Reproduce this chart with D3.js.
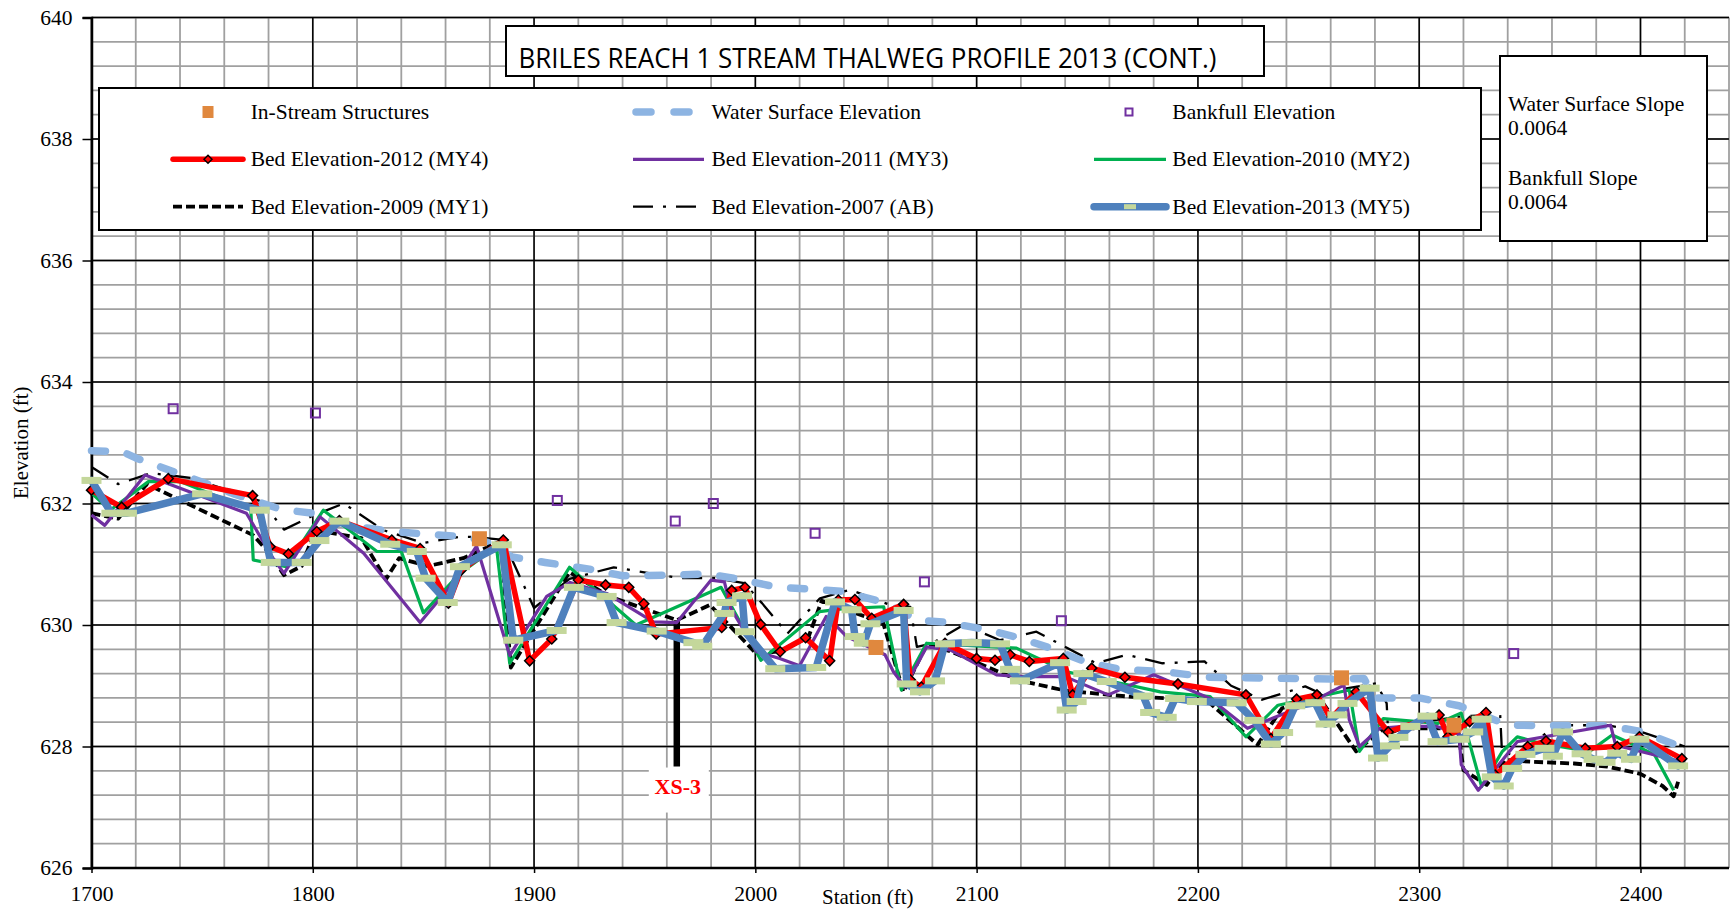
<!DOCTYPE html>
<html>
<head>
<meta charset="utf-8">
<script src="https://cdn.jsdelivr.net/npm/d3@7"></script>
<style>
  body { margin: 0; background: #fff; }
  svg text { font-family: "Liberation Serif", "Times New Roman", serif; }
</style>
</head>
<body>
<svg id="chart" width="1732" height="910"></svg>
<script>
// ---- data (station ft, elevation ft) ----
var waterSurface = [[1700,632.87],[1714,632.85],[1720,632.75],[1748,632.38],[1765,632.15],[1786,631.9],[1800,631.84],
  [1815,631.65],[1835,631.54],[1850,631.5],[1870,631.45],[1880,631.35],[1890,631.12],[1905,631.03],[1925,630.92],
  [1940,630.81],[1960,630.82],[1978,630.84],[1992,630.76],[2010,630.62],[2030,630.58],[2040,630.55],[2055,630.4],
  [2065,630.25],[2073,630.08],[2085,630.05],[2105,629.92],[2120,629.78],[2135,629.6],[2150,629.38],[2165,629.27],
  [2185,629.23],[2205,629.14],[2260,629.11],[2275,629.12],[2280,628.8],[2300,628.8],[2318,628.67],[2330,628.5],
  [2340,628.35],[2385,628.34],[2400,628.25],[2420,627.97]];

var bed2013 = [[1700,632.38],[1709,631.84],[1716,631.84],[1750,632.16],[1776,631.89],[1781,631.03],[1795,631.03],
  [1803,631.39],[1812,631.71],[1835,631.33],[1847,631.21],[1851,630.77],[1861,630.37],[1866.5,630.96],[1885.4,631.32],
  [1890.6,629.75],[1910.2,629.91],[1918,630.62],[1932.8,630.47],[1937.3,630.04],[1955.4,629.9],[1972,629.71],
  [1976,629.65],[1986,630.19],[1987,630.37],[1994,630.48],[1995.3,629.89],[2009,629.28],[2027.5,629.3],[2036,630.38],
  [2043.5,630.25],[2045,629.81],[2049,629.7],[2052,630.02],[2067,630.24],[2068.4,629.03],[2074.4,628.9],[2081.2,629.08],
  [2085.7,629.69],[2097.8,629.71],[2110.6,629.69],[2115.1,629.27],[2119.6,629.08],[2137.7,629.38],[2140.7,628.6],
  [2145.2,628.74],[2148.2,629.2],[2158.8,629.07],[2175.3,628.83],[2178.4,628.56],[2185.9,628.48],[2189.7,628.79],
  [2199.5,628.74],[2217.5,628.72],[2225.5,628.43],[2233,628.04],[2238.5,628.23],[2244,628.67],[2253,628.72],
  [2257.7,628.37],[2263,628.52],[2267.6,628.71],[2277.6,628.96],[2281.4,627.81],[2286.8,628.01],[2290.6,628.15],
  [2296,628.33],[2303.7,628.5],[2308.3,628.08],[2318.2,628.12],[2324.4,628.24],[2328.2,628.45],[2332.8,627.5],
  [2338.2,627.35],[2342,627.64],[2348,627.87],[2356.6,627.97],[2360.4,627.84],[2365,628.24],[2373.4,627.88],
  [2378.8,627.79],[2384.2,627.74],[2389.5,627.89],[2395.7,627.79],[2399.5,628.12],[2417,627.68]];

var bed2012 = [[1700,632.22],[1713.6,631.94],[1734.7,632.41],[1772.8,632.13],[1780.7,631.29],[1789,631.17],
  [1801.8,631.54],[1812,631.72],[1835.7,631.4],[1848.5,631.26],[1861.3,630.36],[1867,630.9],[1886.1,631.4],
  [1898,629.41],[1908,629.77],[1920,630.74],[1932.3,630.66],[1942.8,630.62],[1949.6,630.35],[1955.2,629.85],
  [1984.8,629.96],[1989.3,630.57],[1995.3,630.62],[2002.4,630.01],[2011.2,629.56],[2022.7,629.79],[2033.6,629.41],
  [2037.5,630.41],[2045,630.42],[2052.6,630.11],[2067,630.34],[2070,629.1],[2075,628.98],[2085.7,629.7],[2100,629.45],
  [2108.3,629.42],[2115.1,629.51],[2123.8,629.4],[2139.2,629.45],[2143.4,628.85],[2152,629.29],[2167,629.14],
  [2191,629.03],[2221.7,628.85],[2233,628.13],[2244.6,628.78],[2253.8,628.85],[2260,628.46],[2271.5,628.9],
  [2286,628.24],[2309,628.52],[2313,628.16],[2322.8,628.41],[2330.2,628.56],[2334.3,627.53],[2349,628.0],
  [2357.3,628.09],[2375,627.97],[2389.5,628.0],[2399.5,628.16],[2418.7,627.8]];

var bed2011 = [[1700,631.81],[1706,631.64],[1724.2,632.47],[1770,631.84],[1782,631.1],[1787,630.85],[1803.3,631.78],
  [1823,631.18],[1848.5,630.04],[1862,630.63],[1874,631.3],[1889,629.5],[1905.7,630.47],[1916.3,630.7],[1932.8,630.52],
  [1953.9,630.05],[1964.5,630.04],[1980,630.74],[1986,630.71],[1989,630.27],[2000.6,629.56],[2011,629.45],[2020,629.33],
  [2032,630.14],[2037,629.97],[2041.3,629.81],[2058.6,629.51],[2062.4,629.23],[2067.6,628.98],[2077.4,629.64],
  [2088,629.59],[2109,629.18],[2121,629.15],[2140,629.15],[2159.5,628.85],[2180,629.18],[2205.5,628.79],[2222.4,628.3],
  [2248.5,628.68],[2266,629.01],[2268.4,628.44],[2273,628.0],[2282.2,628.3],[2293,628.33],[2308,628.33],[2318,628.2],
  [2319,627.7],[2326.7,627.28],[2344.3,628.08],[2386.5,628.35],[2388.8,628.02],[2418.7,627.75]];

var bed2010 = [[1700,632.17],[1708.4,631.89],[1725.7,632.36],[1740,632.36],[1772,631.9],[1773.1,631.07],[1788,630.96],
  [1804.8,631.89],[1829,631.21],[1840,631.21],[1850,630.2],[1866.5,630.85],[1883,631.29],[1889,629.37],[1916,630.95],
  [1946,630.0],[1984.5,630.62],[2002.5,629.42],[2029,630.22],[2040,630.27],[2058,630.3],[2066,628.93],[2077.4,629.7],
  [2118,629.62],[2140.7,629.23],[2155,629.12],[2183,628.9],[2205.5,628.82],[2221.7,628.16],[2236.2,628.68],
  [2268.4,628.93],[2273,627.92],[2283.8,628.46],[2308.3,628.38],[2319,628.55],[2328.2,627.34],[2337.4,627.91],
  [2344.3,628.16],[2355,628.05],[2377,627.92],[2387.2,628.19],[2398.7,628.0],[2406.4,627.86],[2415,627.28]];

var bed2009 = [[1700,631.84],[1712,631.75],[1725,632.32],[1773,631.48],[1780,631.2],[1787,630.82],[1795,630.97],
  [1801,631.56],[1822,631.43],[1833,630.75],[1839,631.1],[1852,630.97],[1868,631.1],[1885,631.38],[1889.5,629.3],
  [1916,630.87],[1934,630.47],[1964.5,630.08],[1979.5,630.33],[2000.6,629.52],[2011.2,629.57],[2024,629.8],
  [2030,630.4],[2052.6,630.1],[2057.8,630.03],[2066.9,628.9],[2077.4,629.68],[2088,629.57],[2119,629.09],
  [2140,628.92],[2169,628.82],[2190,628.79],[2205.5,628.71],[2227,628.03],[2238,628.63],[2254.6,628.82],
  [2271.5,627.92],[2284,628.3],[2309,628.3],[2317.5,628.3],[2320,627.61],[2330.5,627.37],[2339,627.78],[2350,627.75],
  [2370,627.72],[2385,627.67],[2400,627.55],[2410,627.35],[2415,627.18],[2417,627.42]];

var bed2007 = [[1700,632.6],[1712,632.32],[1727,632.5],[1745,632.42],[1777,632.03],[1787,631.57],[1800,631.8],
  [1814,632.0],[1832,631.56],[1850,631.35],[1866,631.45],[1873,631.45],[1886,631.4],[1900,630.28],[1916,630.76],
  [1936,630.95],[1966,630.77],[1982,630.77],[1995,630.69],[2003,630.36],[2014.5,629.86],[2029.2,630.44],
  [2042.8,630.58],[2060.9,630.33],[2070,630.3],[2073,629.64],[2080,629.7],[2094,630.0],[2110.6,629.75],[2127,629.89],
  [2154,629.37],[2168,629.51],[2184,629.37],[2203,629.4],[2215,629.0],[2229,628.77],[2248.5,628.99],[2255,628.88],
  [2280.7,629.04],[2285.3,628.71],[2286,628.2],[2300,628.4],[2320,628.5],[2336.6,628.52],[2337.4,627.9],
  [2345,627.85],[2360,628.3],[2368,628.35],[2385,628.35],[2400.3,628.24],[2420,628.0]];

var bankfull = [[1736.9,633.56],[1801.2,633.49],[1910.5,632.05],[1963.8,631.71],[1981,632.0],[2027,631.51],
  [2076.4,630.71],[2138.3,630.07],[2342.7,629.53]];

var structures = [[1875.3,631.42],[2054.5,629.63],[2264.9,629.13],[2315.7,628.35]];

// cross section XS-3
var xsLabel = "XS-3", xsStation = 1964.5, xsTop = 630.08, xsBottom = 627.67;

var titleText = "BRILES REACH 1 STREAM THALWEG PROFILE 2013 (CONT.)";
var slopeLines = ["Water Surface Slope", "0.0064", "Bankfull Slope", "0.0064"];
var legendLabels = ["In-Stream Structures", "Water Surface Elevation", "Bankfull Elevation",
  "Bed Elevation-2012 (MY4)", "Bed Elevation-2011 (MY3)", "Bed Elevation-2010 (MY2)",
  "Bed Elevation-2009 (MY1)", "Bed Elevation-2007 (AB)", "Bed Elevation-2013 (MY5)"];

// ---- chart ----
var svg = d3.select("#chart");
var x = d3.scaleLinear().domain([1700, 2440]).range([91.5, 1729]);
var y = d3.scaleLinear().domain([626, 640]).range([868, 17.5]);

var line = d3.line()
  .x(function(d) { return x(d[0]); })
  .y(function(d) { return y(d[1]); });

// gridlines, minor then major
var grid = svg.append("g");
var minorX = d3.range(1700, 2441, 20), minorY = d3.range(0, 36).map(function(i) { return 626 + i * 0.4; });
grid.selectAll(".mx").data(minorX).enter().append("line")
  .attr("x1", x).attr("x2", x).attr("y1", y(626)).attr("y2", y(640))
  .attr("stroke", "#a0a0a0").attr("stroke-width", 1.8);
grid.selectAll(".my").data(minorY).enter().append("line")
  .attr("y1", y).attr("y2", y).attr("x1", x(1700)).attr("x2", x(2440))
  .attr("stroke", "#a0a0a0").attr("stroke-width", 1.8);
grid.selectAll(".Mx").data(d3.range(1700, 2441, 100)).enter().append("line")
  .attr("x1", x).attr("x2", x).attr("y1", y(626)).attr("y2", y(640))
  .attr("stroke", "#000").attr("stroke-width", 1.5);
grid.selectAll(".My").data(d3.range(626, 641, 2)).enter().append("line")
  .attr("y1", y).attr("y2", y).attr("x1", x(1700)).attr("x2", x(2440))
  .attr("stroke", "#000").attr("stroke-width", 1.5);

// axes
var yAxis = svg.append("g").attr("transform", "translate(" + x(1700) + ",0)")
  .call(d3.axisLeft(y).tickValues(d3.range(626, 641, 2)).tickSize(9).tickPadding(10).tickFormat(d3.format("d")));
var xAxis = svg.append("g").attr("transform", "translate(0," + y(626) + ")")
  .call(d3.axisBottom(x).tickValues(d3.range(1700, 2401, 100)).tickSize(5).tickPadding(13).tickFormat(d3.format("d")));
[yAxis, xAxis].forEach(function(a) {
  a.select(".domain").attr("stroke", "#000").attr("stroke-width", 2.5);
  a.selectAll(".tick line").attr("stroke", "#000").attr("stroke-width", 1.5);
  a.selectAll("text").attr("font-family", "Liberation Serif").attr("font-size", "21.5px").attr("fill", "#000");
});
xAxis.select(".domain").attr("d", "M" + x(1700) + ",0H" + x(2440));

svg.append("text").attr("transform", "translate(28," + y(633) + ") rotate(-90)")
  .attr("text-anchor", "middle").attr("font-size", "21px").text("Elevation (ft)");
svg.append("text").attr("x", 822).attr("y", 904).attr("font-size", "21px").text("Station (ft)");

// XS-3 marker
svg.append("line").attr("x1", x(xsStation)).attr("x2", x(xsStation))
  .attr("y1", y(xsTop)).attr("y2", y(xsBottom)).attr("stroke", "#000").attr("stroke-width", 6.5);
svg.append("rect").attr("x", x(xsStation) - 28).attr("y", y(xsBottom) + 1).attr("width", 60).attr("height", 45).attr("fill", "#fff");
svg.append("text").attr("x", x(xsStation) + 1).attr("y", y(xsBottom) + 27).attr("text-anchor", "middle")
  .attr("font-size", "22px").attr("font-weight", "bold").attr("fill", "#ff0000").text(xsLabel);

// series styles
var plot = svg.append("g");
var styles = {
  wse:  { color: "#8db4e2", width: 7.5, dash: "14 22", cap: "round" },
  b07:  { color: "#000", width: 2.3, dash: "20 10 3 10", cap: "butt" },
  b09:  { color: "#000", width: 3.8, dash: "9 4", cap: "butt" },
  b10:  { color: "#00b050", width: 3.2, dash: null, cap: "butt" },
  b11:  { color: "#7030a0", width: 3.2, dash: null, cap: "butt" },
  b12:  { color: "#ff0000", width: 5.5, dash: null, cap: "round" },
  b13:  { color: "#4f81bd", width: 7.5, dash: null, cap: "round" }
};
function drawLine(g, data, s) {
  g.append("path").datum(data)
    .attr("fill", "none").attr("stroke", s.color).attr("stroke-width", s.width)
    .attr("stroke-linejoin", "round").attr("stroke-linecap", s.cap)
    .attr("stroke-dasharray", s.dash).attr("d", line);
}
drawLine(plot, bed2007, styles.b07);
drawLine(plot, waterSurface, styles.wse);
drawLine(plot, bed2009, styles.b09);
drawLine(plot, bed2010, styles.b10);
drawLine(plot, bed2011, styles.b11);
drawLine(plot, bed2012, styles.b12);
var diamond = "M0,-5L5,0L0,5L-5,0Z";
plot.selectAll(".dia").data(bed2012).enter().append("path")
  .attr("d", diamond).attr("transform", function(d) { return "translate(" + x(d[0]) + "," + y(d[1]) + ")"; })
  .attr("fill", "#ff0000").attr("stroke", "#000").attr("stroke-width", 1.5);
drawLine(plot, bed2013, styles.b13);
plot.selectAll(".m13").data(bed2013).enter().append("rect")
  .attr("x", function(d) { return x(d[0]) - 10; }).attr("y", function(d) { return y(d[1]) - 3.5; })
  .attr("width", 20).attr("height", 7).attr("fill", "#c4d79b");
plot.selectAll(".bf").data(bankfull).enter().append("rect")
  .attr("x", function(d) { return x(d[0]) - 4.5; }).attr("y", function(d) { return y(d[1]) - 4.5; })
  .attr("width", 9).attr("height", 9).attr("fill", "none").attr("stroke", "#7030a0").attr("stroke-width", 2);
plot.selectAll(".st").data(structures).enter().append("rect")
  .attr("x", function(d) { return x(d[0]) - 7.5; }).attr("y", function(d) { return y(d[1]) - 7.5; })
  .attr("width", 15).attr("height", 15).attr("fill", "#e0883e");

// title box
svg.append("rect").attr("x", 506).attr("y", 26).attr("width", 758).attr("height", 50)
  .attr("fill", "#fff").attr("stroke", "#000").attr("stroke-width", 2);
svg.append("text").attr("x", 518.5).attr("y", 67.5).attr("textLength", 698).attr("lengthAdjust", "spacingAndGlyphs")
  .style("font-family", "'Open Sans', 'Noto Sans', sans-serif").attr("font-size", "27px").text(titleText);

// slope box
svg.append("rect").attr("x", 1500).attr("y", 56).attr("width", 207).attr("height", 185)
  .attr("fill", "#fff").attr("stroke", "#000").attr("stroke-width", 2);
svg.selectAll(".slope").data(slopeLines).enter().append("text")
  .attr("x", 1508).attr("y", function(d, i) { return [111, 135, 185, 209][i]; })
  .attr("font-size", "21.5px").text(function(d) { return d; });

// legend
var lg = svg.append("g");
lg.append("rect").attr("x", 99).attr("y", 88).attr("width", 1382).attr("height", 142)
  .attr("fill", "#fff").attr("stroke", "#000").attr("stroke-width", 2);
var colLine = [[173, 243], [633, 704], [1094, 1166]], colText = [250.7, 711.5, 1172.3], rowY = [112, 159.3, 206.7];
legendLabels.forEach(function(label, i) {
  var c = i % 3, r = Math.floor(i / 3), cy = rowY[r], x1 = colLine[c][0], x2 = colLine[c][1], xm = (x1 + x2) / 2;
  lg.append("text").attr("x", colText[c]).attr("y", cy + 7).attr("font-size", "21.5px").text(label);
  var key = ["st", "wse", "bf", "b12", "b11", "b10", "b09", "b07", "b13"][i];
  if (key === "st") {
    lg.append("rect").attr("x", xm - 5.5).attr("y", cy - 6).attr("width", 11).attr("height", 12).attr("fill", "#e0883e");
  } else if (key === "bf") {
    lg.append("rect").attr("x", 1129 - 3.5).attr("y", cy - 3.5).attr("width", 7).attr("height", 7)
      .attr("fill", "none").attr("stroke", "#7030a0").attr("stroke-width", 2);
  } else {
    var s = styles[key];
    var ln = lg.append("line").attr("x1", x1).attr("x2", x2).attr("y1", cy).attr("y2", cy)
      .attr("stroke", s.color).attr("stroke-width", s.width).attr("stroke-linecap", s.cap)
      .attr("stroke-dasharray", s.dash);
    if (key === "wse") ln.attr("x1", x1 + 3).attr("x2", x2 - 3).attr("stroke-dasharray", "15 23");
    if (key === "b12") lg.append("path").attr("d", diamond)
      .attr("transform", "translate(" + (x1 + 35) + "," + cy + ") scale(0.8)")
      .attr("fill", "#ff0000").attr("stroke", "#000").attr("stroke-width", 1.8);
    if (key === "b13") lg.append("rect").attr("x", 1130 - 6).attr("y", cy - 2.5).attr("width", 12).attr("height", 5)
      .attr("fill", "#c4d79b");
  }
});
</script>
</body>
</html>
